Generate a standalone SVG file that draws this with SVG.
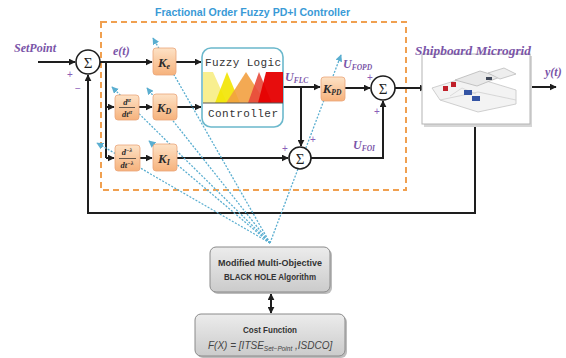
<svg xmlns="http://www.w3.org/2000/svg" width="566" height="358" viewBox="0 0 566 358">
  <style>
    .wire { fill: none; stroke: #1e1e1e; stroke-width: 2; }
    .tune { fill: none; stroke: #5aaed0; stroke-width: 1.3; stroke-dasharray: 2 1.5; }
    .sum { fill: #ffffff; stroke: #1e1e1e; stroke-width: 1.6; }
    .sigma { font-family: "Liberation Serif", serif; font-size: 15px; fill: #1e1e1e; text-anchor: middle; }
    .gain { fill: url(#gainFill); stroke: #eaa57a; stroke-width: 0.8; }
    .klbl { font-family: "Liberation Serif", serif; font-style: italic; font-weight: bold; font-size: 13px; fill: #2a2a2a; text-anchor: middle; }
    .frac { font-family: "Liberation Serif", serif; font-style: italic; font-weight: bold; font-size: 8.5px; fill: #2a2a2a; text-anchor: middle; }
    .sig { font-family: "Liberation Serif", serif; font-style: italic; font-weight: bold; font-size: 12px; fill: #7a55a8; }
    .pm { font-family: "Liberation Sans", sans-serif; font-size: 10px; fill: #8a5fb8; text-anchor: middle; }
    .fz { font-family: "Liberation Mono", monospace; font-size: 11px; fill: #333; }
    .algo { font-family: "Liberation Sans", sans-serif; font-weight: bold; font-size: 8.5px; fill: #333; text-anchor: middle; }
  </style>
  <defs>
    <marker id="arrow" viewBox="0 0 10 10" refX="9" refY="5" markerWidth="7" markerHeight="7" markerUnits="userSpaceOnUse" orient="auto">
      <path d="M0,0 L10,5 L0,10 z" fill="#1e1e1e"/>
    </marker>
    <marker id="arrowBlue" viewBox="0 0 10 10" refX="9" refY="5" markerWidth="7" markerHeight="7" markerUnits="userSpaceOnUse" orient="auto">
      <path d="M0,0 L10,5 L0,10 z" fill="#5aaed0"/>
    </marker>
    <marker id="arrowStart" viewBox="0 0 10 10" refX="1" refY="5" markerWidth="7" markerHeight="7" markerUnits="userSpaceOnUse" orient="auto">
      <path d="M10,0 L0,5 L10,10 z" fill="#1e1e1e"/>
    </marker>
    <linearGradient id="gainFill" x1="0" y1="0" x2="0" y2="1">
      <stop offset="0" stop-color="#fde2c6"/>
      <stop offset="1" stop-color="#f6b27c"/>
    </linearGradient>
    <linearGradient id="greyFill" x1="0" y1="0" x2="0" y2="1">
      <stop offset="0" stop-color="#ececec"/>
      <stop offset="1" stop-color="#cbcbcb"/>
    </linearGradient>
  </defs>

  <rect width="566" height="358" fill="#ffffff"/>

  <!-- controller frame -->
  <g id="controller-frame">
    <rect x="101" y="22" width="305" height="168" fill="none" stroke="#f0a050" stroke-width="2" stroke-dasharray="6 4"/>
    <text x="155" y="16" font-family="Liberation Sans, sans-serif" font-weight="bold" font-size="10" fill="#3a9ad6" textLength="195" lengthAdjust="spacingAndGlyphs">Fractional Order Fuzzy PD+I Controller</text>
  </g>

  <!-- connectors -->
  <g id="connectors">
    <path class="wire" d="M38,62 H75" marker-end="url(#arrow)"/>
    <path class="wire" d="M100,62 H152" marker-end="url(#arrow)"/>
    <path class="wire" d="M106,62 V158"/>
    <path class="wire" d="M106,107 H114" marker-end="url(#arrow)"/>
    <path class="wire" d="M106,158 H114" marker-end="url(#arrow)"/>
    <path class="wire" d="M139,107 H152" marker-end="url(#arrow)"/>
    <path class="wire" d="M140,158 H152" marker-end="url(#arrow)"/>
    <path class="wire" d="M176,62 H201" marker-end="url(#arrow)"/>
    <path class="wire" d="M177,107 H201" marker-end="url(#arrow)"/>
    <path class="wire" d="M177,158 H288" marker-end="url(#arrow)"/>
    <path class="wire" d="M283,87 H320" marker-end="url(#arrow)"/>
    <path class="wire" d="M301,87 V146" marker-end="url(#arrow)"/>
    <path class="wire" d="M345,88 H370" marker-end="url(#arrow)"/>
    <path class="wire" d="M311,158 H383 V101" marker-end="url(#arrow)"/>
    <path class="wire" d="M395,88 H426" marker-end="url(#arrow)"/>
    <path class="wire" d="M525,87 H556" marker-end="url(#arrow)"/>
    <path class="wire" d="M475,124 V213 H88 V75" marker-end="url(#arrow)"/>
    <path class="wire" d="M271,294 V313" marker-start="url(#arrowStart)" marker-end="url(#arrow)"/>
    <!-- tuning links from the optimiser to the gains -->
    <path class="tune" d="M270,243 L153,38" marker-end="url(#arrowBlue)"/>
    <path class="tune" d="M270,243 L112,87" marker-end="url(#arrowBlue)"/>
    <path class="tune" d="M270,243 L147,88" marker-end="url(#arrowBlue)"/>
    <path class="tune" d="M270,243 L97,143" marker-end="url(#arrowBlue)"/>
    <path class="tune" d="M270,243 L149,141" marker-end="url(#arrowBlue)"/>
    <path class="tune" d="M270,243 L341,55" marker-end="url(#arrowBlue)"/>
  </g>

  <!-- signal labels -->
  <g id="labels">
    <text class="sig" x="14" y="52">SetPoint</text>
    <text class="sig" x="113" y="55">e(t)</text>
    <text class="sig" x="285" y="81">U<tspan font-size="7.5" dy="2">FLC</tspan></text>
    <text class="sig" x="343" y="68">U<tspan font-size="7.5" dy="2">FOPD</tspan></text>
    <text class="sig" x="353" y="149">U<tspan font-size="7.5" dy="2">FOI</tspan></text>
    <text class="sig" x="545" y="76">y(t)</text>
    <text class="pm" x="70" y="78">+</text>
    <text class="pm" x="78" y="92" fill="#333">−</text>
    <text class="pm" x="370" y="81">+</text>
    <text class="pm" x="377" y="115">+</text>
    <text class="pm" x="285" y="152">+</text>
    <text class="pm" x="313" y="143">+</text>
  </g>

  <!-- summing junctions -->
  <g id="sum-error">
    <circle class="sum" cx="88" cy="62" r="12"/>
    <text class="sigma" x="88" y="67.5">Σ</text>
  </g>
  <g id="sum-pi">
    <circle class="sum" cx="300" cy="158" r="11"/>
    <text class="sigma" x="300" y="163.5">Σ</text>
  </g>
  <g id="sum-out">
    <circle class="sum" cx="383" cy="88" r="12"/>
    <text class="sigma" x="383" y="93.5">Σ</text>
  </g>

  <!-- gains and fractional operators -->
  <g id="gain-ke">
    <rect class="gain" x="153" y="48" width="23" height="27" rx="3"/>
    <text class="klbl" x="164" y="67">K<tspan font-size="8" dy="2">e</tspan></text>
  </g>
  <g id="frac-derivative">
    <rect class="gain" x="115" y="95" width="24" height="25" rx="3"/>
    <text class="frac" x="127" y="105">d<tspan font-size="6" dy="-3">α</tspan></text>
    <line x1="119" y1="107.5" x2="135" y2="107.5" stroke="#2a2a2a" stroke-width="0.7"/>
    <text class="frac" x="127" y="117">dt<tspan font-size="6" dy="-3">α</tspan></text>
  </g>
  <g id="gain-kd">
    <rect class="gain" x="153" y="94" width="24" height="26" rx="3"/>
    <text class="klbl" x="164" y="112">K<tspan font-size="8" dy="2">D</tspan></text>
  </g>
  <g id="frac-integral">
    <rect class="gain" x="115" y="145" width="25" height="26" rx="3"/>
    <text class="frac" x="127" y="155">d<tspan font-size="6" dy="-3">−λ</tspan></text>
    <line x1="119" y1="158.5" x2="136" y2="158.5" stroke="#2a2a2a" stroke-width="0.7"/>
    <text class="frac" x="127" y="168">dt<tspan font-size="6" dy="-3">−λ</tspan></text>
  </g>
  <g id="gain-ki">
    <rect class="gain" x="153" y="144" width="24" height="27" rx="3"/>
    <text class="klbl" x="164" y="163">K<tspan font-size="8" dy="2">I</tspan></text>
  </g>
  <g id="gain-kpd">
    <rect class="gain" x="321" y="77" width="24" height="24" rx="3"/>
    <text class="klbl" x="332" y="93">K<tspan font-size="7.5" dy="2">PD</tspan></text>
  </g>

  <!-- fuzzy logic controller -->
  <g id="fuzzy-controller">
    <rect x="202" y="48" width="81" height="79" rx="9" fill="#ffffff" stroke="#6bb8cc" stroke-width="1.6"/>
    <text class="fz" x="205" y="66" textLength="76" lengthAdjust="spacing">Fuzzy Logic</text>
    <polygon points="203,72 213,72 227,103 203,103" fill="#f8ef90"/>
    <polygon points="215,103 227,72 240,103" fill="#f2e400" opacity="0.9"/>
    <polygon points="226,103 246,72 266,103" fill="#f2a040" opacity="0.9"/>
    <polygon points="248,103 259,72 272,103" fill="#e8483a" opacity="0.9"/>
    <polygon points="258,103 266,72 283,72 283,103" fill="#e60000" opacity="0.95"/>
    <line x1="203" y1="103" x2="283" y2="103" stroke="#555" stroke-width="1"/>
    <text class="fz" x="208" y="117" textLength="70" lengthAdjust="spacing">Controller</text>
  </g>

  <!-- plant -->
  <g id="shipboard-microgrid">
    <rect x="424" y="56" width="108" height="71" fill="#d6d6d6"/>
    <rect x="422" y="54" width="108" height="70" fill="#ffffff" stroke="#b4b4b4" stroke-width="1"/>
    <polygon points="432,88 470,76 516,90 516,104 478,112 440,100" fill="#f3f3f3" stroke="#c4c4c4" stroke-width="0.8"/>
    <polygon points="455,80 480,71 500,77 477,86" fill="#e9e9e9" stroke="#b8b8b8" stroke-width="0.8"/>
    <polygon points="488,73 504,68 516,74 500,79" fill="#eeeeee" stroke="#bdbdbd" stroke-width="0.8"/>
    <polyline points="440,100 478,92 516,100" fill="none" stroke="#cfcfcf" stroke-width="0.8"/>
    <polyline points="450,96 462,88 476,94" fill="none" stroke="#d4d4d4" stroke-width="0.8"/>
    <rect x="443" y="86" width="5" height="5" fill="#c0202a"/>
    <rect x="451" y="82" width="5" height="5" fill="#c0202a"/>
    <rect x="464" y="90" width="8" height="5" fill="#3454a4"/>
    <rect x="472" y="96" width="8" height="5" fill="#3454a4"/>
    <rect x="486" y="77" width="6" height="3" fill="#404858"/>
    <text x="415" y="55" font-family="Liberation Serif, serif" font-style="italic" font-weight="bold" font-size="12" fill="#7a55a8" textLength="116" lengthAdjust="spacingAndGlyphs">Shipboard Microgrid</text>
  </g>

  <!-- optimiser -->
  <g id="black-hole-algorithm">
    <rect x="212" y="249" width="120" height="45" rx="6" fill="#bdbdbd"/>
    <rect x="210" y="247" width="120" height="45" rx="6" fill="url(#greyFill)" stroke="#8a8a8a" stroke-width="1"/>
    <text class="algo" x="270" y="266" textLength="104" lengthAdjust="spacingAndGlyphs">Modified Multi-Objective</text>
    <text class="algo" x="270" y="280" textLength="92" lengthAdjust="spacingAndGlyphs">BLACK HOLE Algorithm</text>
  </g>

  <!-- objective -->
  <g id="cost-function">
    <rect x="197" y="316" width="150" height="42" rx="6" fill="#bdbdbd"/>
    <rect x="195" y="314" width="150" height="42" rx="6" fill="url(#greyFill)" stroke="#8a8a8a" stroke-width="1"/>
    <text class="algo" x="270" y="333" textLength="54" lengthAdjust="spacingAndGlyphs">Cost Function</text>
    <text x="208" y="349" font-family="Liberation Sans, sans-serif" font-style="italic" font-size="10" fill="#444">F(X) = [ITSE<tspan font-size="6.5" dy="2">Set−Point</tspan><tspan dy="-2"> ,ISDCO]</tspan></text>
  </g>
</svg>
